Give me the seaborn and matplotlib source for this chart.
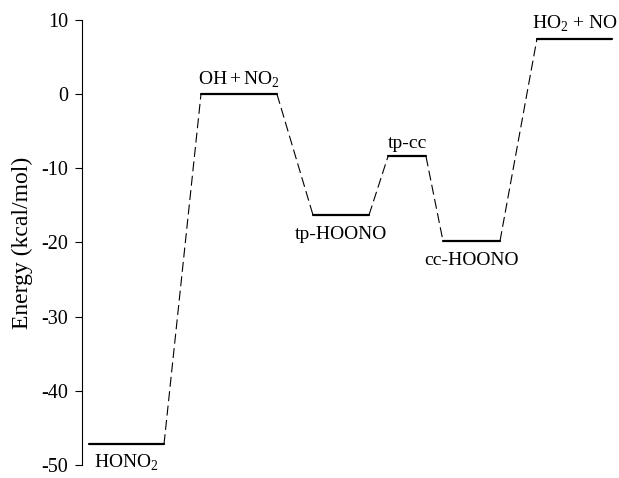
import pandas as pd
import seaborn as sns
import matplotlib
matplotlib.use("Agg")
import matplotlib.pyplot as plt

# energy levels (kcal/mol) and horizontal extent of each level line
species = ['HONO$_2$', r'OH$\,$+$\,$NO$_2$', 'tp-HOONO', 'tp-cc', 'cc-HOONO', 'HO$_2$ + NO']
energy = [-47.2, 0.0, -16.3, -8.4, -19.8, 7.5]
x_start = [89, 201, 313, 388, 443, 537]
x_end = [164, 277, 369, 426, 500, 612]
label_pos = ['below', 'above', 'below', 'above', 'below', 'above']

sns.set_style('ticks')
plt.rcParams['font.family'] = ['Liberation Serif', 'DejaVu Serif']
plt.rcParams['mathtext.fontset'] = 'custom'
plt.rcParams['mathtext.rm'] = 'Liberation Serif'
plt.rcParams['axes.unicode_minus'] = False
plt.rcParams['text.color'] = 'black'
plt.rcParams['axes.labelcolor'] = 'black'
plt.rcParams['ytick.color'] = 'black'

#level lines in long form
levels = pd.DataFrame({
    'x': x_start + x_end,
    'y': energy + energy,
    'level': list(range(len(energy))) * 2,
})
#dashed connectors: right end of one level to left end of the next
conn = pd.DataFrame({
    'x': x_end[:-1] + x_start[1:],
    'y': energy[:-1] + energy[1:],
    'step': list(range(len(energy) - 1)) * 2,
})

fig = plt.figure(figsize=(6.19, 4.78), dpi=100)
ax = fig.add_axes([82 / 619, 1 - 465 / 478, (616 - 82) / 619, (465 - 20) / 478])

sns.lineplot(data=levels, x='x', y='y', units='level', estimator=None,
             color='black', linewidth=1.6, ax=ax)
n_level_lines = len(ax.lines)
sns.lineplot(data=conn, x='x', y='y', units='step', estimator=None,
             color='black', linewidth=0.8, ax=ax)
for ln in ax.lines[n_level_lines:]:
    ln.set_dashes([9, 4])

for name, e, x0, x1, pos in zip(species, energy, x_start, x_end, label_pos):
    xc = (x0 + x1) / 2
    if pos == 'above':
        ax.annotate(name, (xc, e), xytext=(0, 3), textcoords='offset points',
                    ha='center', va='bottom', fontsize=14)
    else:
        off = -6 if e < -40 else -8
        ax.annotate(name, (xc, e), xytext=(0, off), textcoords='offset points',
                    ha='center', va='top', fontsize=14)

ax.set_xlim(82, 616)
ax.set_ylim(-50, 10)
ax.set_yticks([10, 0, -10, -20, -30, -40, -50])
ax.tick_params(axis='y', labelsize=14.5, length=5, width=0.8, pad=5)
ax.set_xticks([])
ax.set_xlabel('')
ax.set_ylabel('Energy (kcal/mol)', fontsize=17, labelpad=6)
sns.despine(ax=ax, bottom=True)
ax.spines['left'].set_linewidth(0.8)
ax.spines['left'].set_color('black')

fig.savefig('out.png', dpi=100)
